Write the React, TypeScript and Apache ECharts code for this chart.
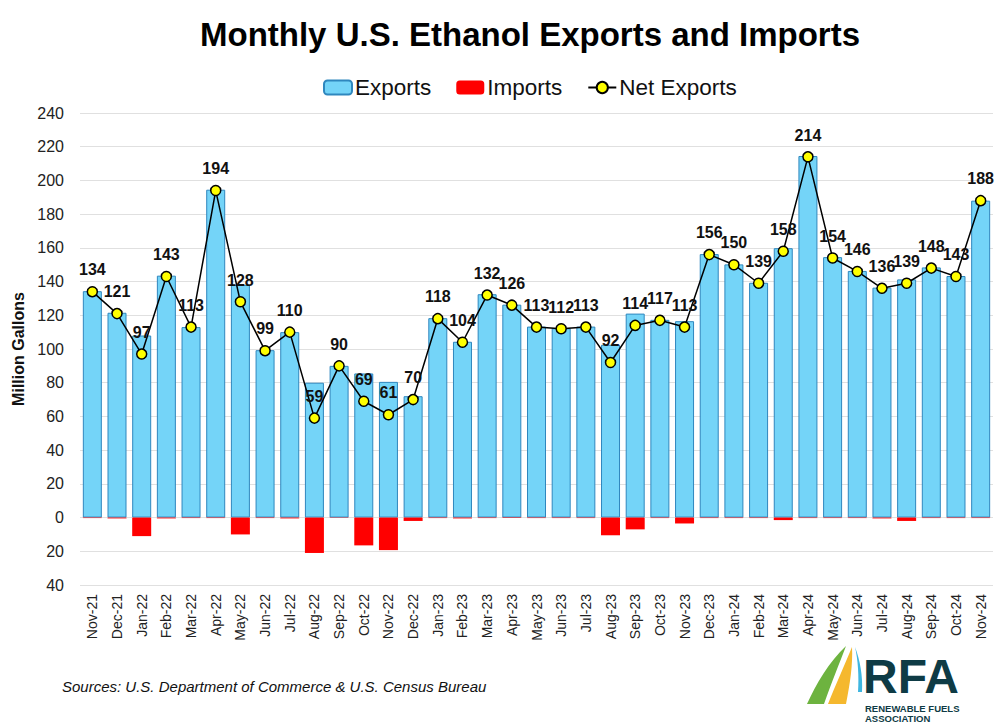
import React, { useEffect, useRef } from "react";
import * as echarts from "echarts";

const categories = [
  "Nov-21", "Dec-21", "Jan-22", "Feb-22", "Mar-22", "Apr-22", "May-22", "Jun-22", "Jul-22", "Aug-22",
  "Sep-22", "Oct-22", "Nov-22", "Dec-22", "Jan-23", "Feb-23", "Mar-23", "Apr-23", "May-23", "Jun-23",
  "Jul-23", "Aug-23", "Sep-23", "Oct-23", "Nov-23", "Dec-23", "Jan-24", "Feb-24", "Mar-24", "Apr-24",
  "May-24", "Jun-24", "Jul-24", "Aug-24", "Sep-24", "Oct-24", "Nov-24",
];

const exportsData = [
  134.3, 121.5, 108, 143.5, 113, 194.5, 138, 99.3, 110, 80,
  90, 85.5, 80.5, 72, 118.3, 104.3, 132.5, 126.3, 113.3, 112.3,
  113.3, 102.5, 121, 117.3, 116.5, 156.3, 150.2, 139.3, 159.8, 214.5,
  154.5, 146.3, 136.4, 141.3, 148.4, 143.3, 188,
];

const importsData = [
  -0.3, -0.5, -11, -0.5, -0.3, -0.3, -10, -0.3, -0.5, -21,
  -0.2, -16.5, -19.3, -2, -0.3, -0.5, -0.3, -0.3, -0.3, -0.3,
  -0.3, -10.5, -7, -0.3, -3.5, -0.3, -0.3, -0.3, -1.5, -0.3,
  -0.3, -0.3, -0.5, -2, -0.3, -0.3, -0.3,
];

const netExports = [
  134, 121, 97, 143, 113, 194, 128, 99, 110, 59,
  90, 69, 61, 70, 118, 104, 132, 126, 113, 112,
  113, 92, 114, 117, 113, 156, 150, 139, 158, 214,
  154, 146, 136, 139, 148, 143, 188,
];

const yMin = -40;
const yMax = 240;
const yInterval = 20;

const titleText = "Monthly U.S. Ethanol Exports and Imports";
const sourceText = "Sources: U.S. Department of Commerce & U.S. Census Bureau";

const greenSwoosh = "M807,704 C816,684 829,662 846,646 C840,662 831,684 824,704 Z";
const yellowSwoosh = "M828,704 C836,684 845,664 852,647 C853,664 850,684 846,704 Z";
const blueSwoosh = "M855,647 C860,660 863,676 862,692 L858,692 C859,676 858,660 855,647 Z";

export default function App() {
  const ref = useRef<HTMLDivElement>(null);

  useEffect(() => {
    if (!ref.current) return;
    echarts.graphic.registerShape("greenSwoosh", echarts.graphic.extendPath(greenSwoosh, {}));
    echarts.graphic.registerShape("yellowSwoosh", echarts.graphic.extendPath(yellowSwoosh, {}));
    echarts.graphic.registerShape("blueSwoosh", echarts.graphic.extendPath(blueSwoosh, {}));
    const chart = echarts.init(ref.current, null, { renderer: "svg" });
    const option: any = {
      animation: false,
      backgroundColor: "#ffffff",
      title: {
        text: titleText,
        left: 525,
        top: 13,
        textAlign: "center",
        textStyle: {
          fontFamily: "Liberation Sans, Arial, sans-serif",
          fontWeight: "bold",
          fontSize: 33,
          color: "#000000",
        },
      },
      legend: {
        left: 318,
        top: 71,
        itemWidth: 28,
        itemHeight: 14,
        itemGap: 25,
        textStyle: {
          fontFamily: "Liberation Sans, Arial, sans-serif",
          fontSize: 22.5,
          color: "#111111",
          padding: [0, 0, 0, -2],
        },
        data: ["Exports", "Imports", "Net Exports"],
      },
      grid: { left: 80, right: 7, top: 113, bottom: 140, containLabel: false },
      xAxis: {
        type: "category",
        data: categories,
        axisTick: { show: false },
        axisLine: { show: false },
        axisLabel: {
          rotate: 90,
          interval: 0,
          fontFamily: "Liberation Sans, Arial, sans-serif",
          fontSize: 14,
          color: "#222222",
          margin: 9,
        },
      },
      yAxis: {
        type: "value",
        min: yMin,
        max: yMax,
        interval: yInterval,
        name: "Million Gallons",
        nameLocation: "middle",
        nameGap: 52,
        nameTextStyle: {
          fontFamily: "Liberation Sans, Arial, sans-serif",
          fontWeight: "bold",
          fontSize: 16,
          color: "#111111",
        },
        axisLine: { show: false },
        axisTick: { show: false },
        axisLabel: {
          formatter: (v: number) => String(Math.abs(v)),
          fontFamily: "Liberation Sans, Arial, sans-serif",
          fontSize: 16,
          color: "#222222",
          margin: 16,
        },
        splitLine: { lineStyle: { color: "#e0e0e0", width: 1 } },
      },
      series: [
        {
          name: "Exports",
          type: "bar",
          data: exportsData,
          barWidth: 19,
          barGap: "-100%",
          itemStyle: { color: "#74D4F8", borderColor: "#2F87BE", borderWidth: 1 },
        },
        {
          name: "Imports",
          type: "bar",
          data: importsData,
          barWidth: 19,
          barGap: "-100%",
          itemStyle: { color: "#FF0000" },
        },
        {
          name: "Net Exports",
          type: "line",
          data: netExports,
          symbol: "circle",
          symbolSize: 10,
          lineStyle: { color: "#000000", width: 1.5 },
          itemStyle: { color: "#FFFF00", borderColor: "#000000", borderWidth: 1.5 },
          label: {
            show: true,
            position: "top",
            distance: 8,
            fontFamily: "Liberation Sans Narrow, Arial Narrow, sans-serif",
            fontWeight: "bold",
            fontSize: 16,
            color: "#111111",
          },
          z: 5,
        },
      ],
      graphic: [
        {
          type: "text",
          left: 62,
          top: 679,
          style: {
            text: sourceText,
            font: "italic 15px 'Liberation Sans', Arial, sans-serif",
            fill: "#111111",
          },
        },
        { type: "greenSwoosh", x: 0, y: 0, style: { fill: "#6DB33F" } },
        { type: "yellowSwoosh", x: 0, y: 0, style: { fill: "#F5B82E" } },
        { type: "blueSwoosh", x: 0, y: 0, style: { fill: "#3FB6E0" } },
        {
          type: "text",
          left: 863,
          top: 652,
          style: {
            text: "RFA",
            font: "900 48px 'Liberation Sans', Arial, sans-serif",
            fill: "#0E3B45",
          },
        },
        {
          type: "text",
          left: 865,
          top: 703,
          style: {
            text: "RENEWABLE FUELS\nASSOCIATION",
            font: "bold 9.5px 'Liberation Sans', Arial, sans-serif",
            lineHeight: 10,
            fill: "#0E3B45",
          },
        },
      ],
    };
    chart.setOption(option);
    return () => chart.dispose();
  }, []);

  return (
    <div
      ref={ref}
      style={{ position: "absolute", left: 0, top: 0, width: 1000, height: 725 }}
    />
  );
}
